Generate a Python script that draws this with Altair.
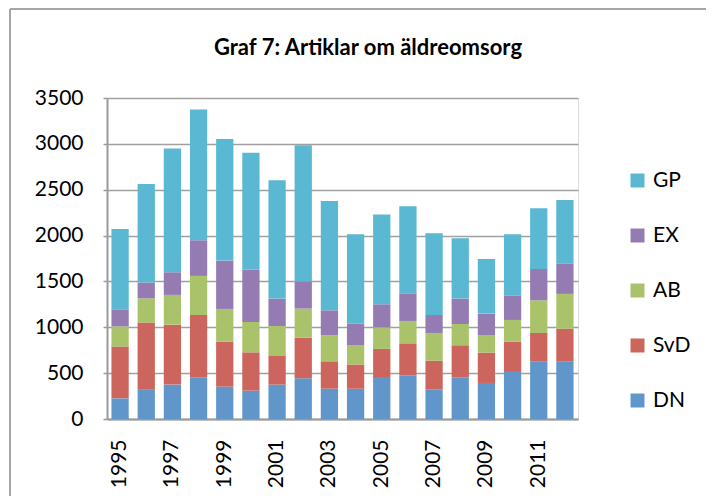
import altair as alt
import pandas as pd

years = [str(y) for y in range(1995, 2013)]
DN = [225, 320, 375, 455, 353, 309, 375, 444, 331, 331, 458, 476, 324, 455, 393, 513, 629, 629]
SvD = [565, 731, 654, 679, 491, 418, 312, 443, 298, 262, 306, 349, 312, 349, 331, 331, 309, 356]
AB = [220, 265, 324, 426, 356, 331, 327, 317, 284, 214, 236, 244, 302, 232, 192, 236, 356, 379]
EX = [185, 171, 247, 389, 527, 571, 299, 294, 272, 233, 251, 298, 196, 277, 233, 265, 342, 330]
GP = [876, 1076, 1349, 1425, 1327, 1273, 1290, 1487, 1193, 974, 978, 953, 891, 658, 596, 669, 662, 695]

stack_order = ["DN", "SvD", "AB", "EX", "GP"]
legend_order = ["GP", "EX", "AB", "SvD", "DN"]
palette = ["#5BB8D2", "#947CB2", "#AAC36A", "#CC655D", "#6096C9"]
tick_years = years[::2]
y_ticks = [0, 500, 1000, 1500, 2000, 2500, 3000, 3500]
title_text = "Graf 7: Artiklar om äldreomsorg"

series_values = {"DN": DN, "SvD": SvD, "AB": AB, "EX": EX, "GP": GP}
rows = []
for s in stack_order:
    for yr, v in zip(years, series_values[s]):
        rows.append({"year": yr, "paper": s, "count": v, "ord": stack_order.index(s)})
df = pd.DataFrame(rows)

FONT = "Lato"
LBL = 21

bars = alt.Chart(df).mark_bar().encode(
    x=alt.X("year:N", sort=years,
            scale=alt.Scale(paddingInner=0.34, paddingOuter=0.17),
            axis=alt.Axis(title=None, values=tick_years, labelAngle=-90, labelAlign="right",
                          labelBaseline="middle", labelFontSize=LBL, labelFont=FONT,
                          labelColor="#000000", ticks=False, labelPadding=20,
                          domainColor="#9a9a9a", domainWidth=2, grid=False)),
    y=alt.Y("count:Q", stack="zero",
            scale=alt.Scale(domain=[0, 3500], nice=False),
            axis=alt.Axis(title=None, values=y_ticks, format="d", labelFontSize=LBL, labelFont=FONT,
                          labelColor="#000000", tickSize=4, tickColor="#9a9a9a", tickWidth=1.5,
                          labelPadding=20, domainColor="#9a9a9a", domainWidth=2,
                          gridColor="#a0a0a0", gridWidth=1.5)),
    color=alt.Color("paper:N",
                    scale=alt.Scale(domain=legend_order, range=palette),
                    legend=alt.Legend(title=None, orient="none", legendX=520, legendY=72,
                                      symbolType="square", symbolSize=196, symbolStrokeWidth=0,
                                      labelFontSize=LBL, labelFont=FONT, labelColor="#000000",
                                      rowPadding=33, labelOffset=5)),
    order=alt.Order("ord:Q", sort="ascending"),
)

frame_data = alt.Data(values=[{"k": 1}])
frame_left = alt.Chart(frame_data).mark_rule(color="#a6a6a6", strokeWidth=2).encode(
    x=alt.value(-97), y=alt.value(-89), y2=alt.value(420))
frame_top = alt.Chart(frame_data).mark_rule(color="#a6a6a6", strokeWidth=2).encode(
    y=alt.value(-89), x=alt.value(-97), x2=alt.value(620))

title = alt.Chart(alt.Data(values=[{"t": title_text}])).mark_text(
    font=FONT, fontSize=22, fontWeight="bold", color="#000000", align="center", baseline="middle"
).encode(text="t:N", x=alt.value(261), y=alt.value(-50))

chart = alt.layer(frame_left, frame_top, title, bars).properties(
    width=471, height=321,
    autosize=alt.AutoSizeParams(type="none"),
    padding={"left": 99, "top": 90, "right": 128, "bottom": 77},
).configure_view(stroke=None).configure(background="white")

chart.save("out.html", embed_options={"renderer": "svg", "actions": False})
